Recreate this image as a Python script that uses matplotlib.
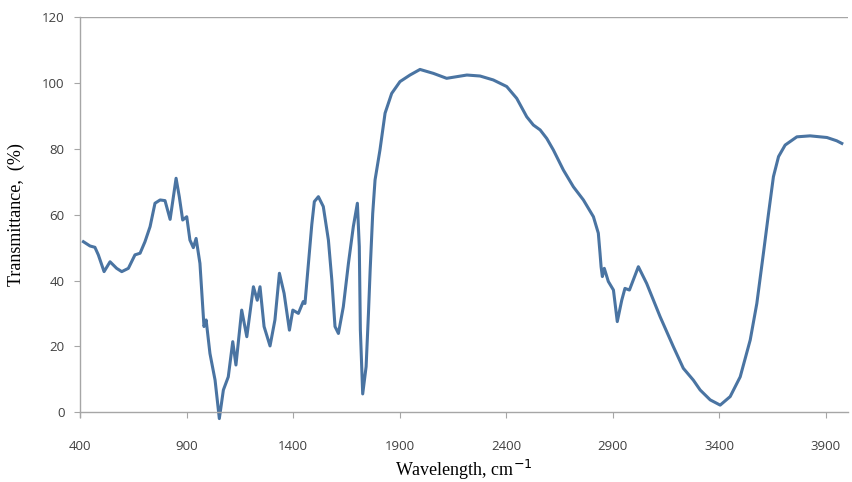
import matplotlib.pyplot as plt

# FTIR spectrum, values
wavenumber = [416, 447, 470, 486, 513, 541, 572, 596, 627, 658, 682, 705, 729, 752, 776,
              799, 823, 851, 866, 882, 901, 916, 932, 945, 963, 982, 992, 1010, 1034, 1054,
              1073, 1096, 1117, 1132, 1159, 1183, 1214, 1232, 1245, 1264, 1292, 1315, 1336,
              1358, 1383, 1399, 1425, 1448, 1456, 1472, 1488, 1500, 1519, 1542, 1566, 1582,
              1597, 1613, 1636, 1660, 1683, 1702, 1711, 1716, 1727, 1743, 1754, 1762, 1774,
              1785, 1808, 1832, 1863, 1902, 1949, 1996, 2059, 2121, 2216, 2278, 2340, 2403,
              2450, 2497, 2528, 2560, 2591, 2622, 2669, 2716, 2763, 2810, 2833, 2841, 2846,
              2852, 2861, 2880, 2904, 2922, 2943, 2958, 2979, 3021, 3060, 3123, 3185, 3232,
              3279, 3311, 3358, 3405, 3452, 3499, 3546, 3577, 3608, 3632, 3655, 3679, 3710,
              3765, 3827, 3906, 3952, 3976]
transmittance = [51.8, 50.5, 50.1, 47.8, 42.7, 45.7, 43.7, 42.7, 43.7, 47.8, 48.3, 51.8, 56.4,
                 63.5, 64.5, 64.3, 58.6, 71.1, 65.5, 58.4, 59.4, 52.3, 50.0, 52.8, 45.2, 26.0,
                 28.0, 17.8, 9.7, -2.0, 6.7, 10.7, 21.4, 14.3, 31.0, 22.9, 38.1, 34.0, 38.1,
                 26.0, 20.1, 28.0, 42.2, 36.1, 24.9, 31.0, 30.0, 33.6, 33.0, 45.0, 57.0, 64.0,
                 65.5, 62.5, 52.3, 40.2, 26.0, 23.9, 32.0, 45.2, 56.4, 63.5, 50.3, 25.0, 5.5,
                 13.8, 30.0, 43.2, 60.4, 70.6, 79.7, 90.9, 96.9, 100.5, 102.5, 104.2, 103.0,
                 101.5, 102.5, 102.2, 101.0, 99.0, 95.4, 89.8, 87.3, 85.8, 83.2, 79.7, 73.6,
                 68.5, 64.5, 59.4, 54.4, 48.3, 44.2, 41.2, 43.7, 39.7, 37.1, 27.5, 34.0, 37.6,
                 37.1, 44.2, 39.1, 29.0, 19.9, 13.3, 9.7, 6.7, 3.7, 2.1, 4.7, 10.7, 21.9, 33.0,
                 48.3, 60.4, 71.6, 77.7, 81.2, 83.7, 84.0, 83.5, 82.5, 81.7]

x_ticks = [400, 900, 1400, 1900, 2400, 2900, 3400, 3900]
y_ticks = [0, 20, 40, 60, 80, 100, 120]

fig = plt.figure(figsize=(8.52, 4.82), dpi=100)
ax = fig.add_axes([0.0939, 0.1452, 0.9014, 0.8185])

ax.plot(wavenumber, transmittance, color="#4a74a2", linewidth=2.2,
        solid_joinstyle="round", clip_on=False)

ax.set_xlim(400, 4005)
ax.set_ylim(0, 120)
ax.set_xticks(x_ticks)
ax.set_yticks(y_ticks)
ax.axhline(120, color="#a6a6a6", linewidth=1.0)

for side in ["top", "right"]:
    ax.spines[side].set_visible(False)
for side in ["left", "bottom"]:
    ax.spines[side].set_color("#a6a6a6")
    ax.spines[side].set_linewidth(1.0)
ax.spines["left"].set_bounds(-1.5, 120)

ax.tick_params(axis="x", direction="out", length=4, color="#a6a6a6", pad=16,
               labelsize=9.5, labelcolor="#404040")
ax.tick_params(axis="y", direction="out", length=4, color="#a6a6a6", pad=7,
               labelsize=9.5, labelcolor="#404040")
for lbl in ax.get_xticklabels() + ax.get_yticklabels():
    lbl.set_family("Open Sans")

ax.set_xlabel("Wavelength, cm$^{-1}$", family="Liberation Serif", fontsize=13, labelpad=4)
ax.set_ylabel("Transmittance,  (%)", family="Liberation Serif", fontsize=13, labelpad=12)

fig.savefig("out.png", dpi=100)
